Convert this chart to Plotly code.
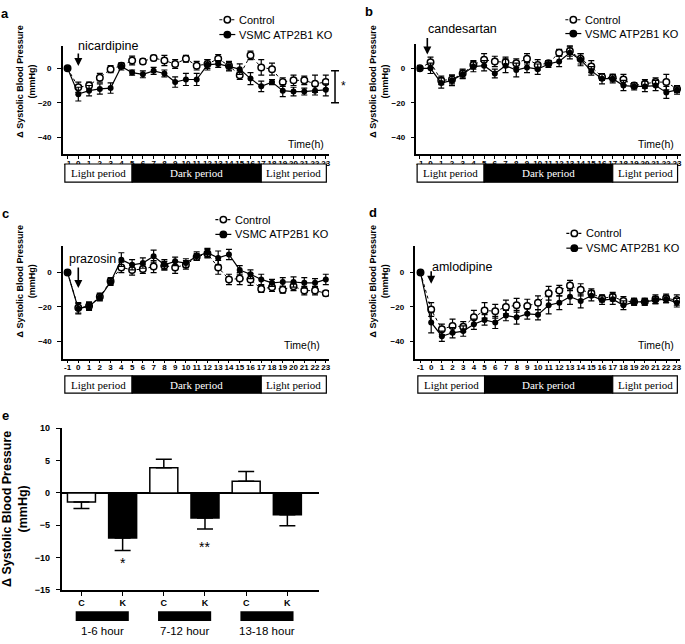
import plotly.graph_objects as go

W, H = 685, 644
F = "Liberation Sans"
FS = "Liberation Serif"

def PX(x):
    return x / W

def PY(y):
    return 1 - y / H

# ---------------- data ----------------
hours = [-1, 0, 1, 2, 3, 4, 5, 6, 7, 8, 9, 10, 11, 12, 13, 14, 15, 16, 17, 18, 19, 20, 21, 22, 23]

ctrl_a = [0, -11, -10, -5.5, -0.5, 1.5, 4.5, 4, 6, 4.5, 2.5, 5.5, 1.5, 2.5, 5.5, 1.5, -4, 7.5, 0.5, -0.5, -8, -7, -7, -9, -8]
ctrl_a_err = [0, 3, 2, 2.5, 2, 1.5, 2.5, 1.5, 1.5, 3, 2.5, 2, 2.5, 2.5, 2.5, 2.5, 2.5, 2.5, 4.5, 3.5, 2.5, 3, 2.5, 5, 4]
ko_a = [0, -15, -13, -12, -11.5, 1, -2.5, -3.5, -1.5, -3, -8, -6.5, -6.5, 2, 2.5, 1, -0.5, -6, -10.5, -8, -13, -13.5, -13.5, -13, -12.5]
ko_a_err = [0, 4, 3, 3, 3, 2, 1.5, 2, 2, 2, 3, 3.5, 3.5, 3, 2, 2.5, 3, 3.5, 3, 1.5, 3.5, 2.5, 2, 2.5, 3.5]

ctrl_b = [0, 3.5, -7, -6.5, -3, 2, 5, 4, 3.5, 3, 5.5, 2, 3, 9, 10, 5.5, 1, -5, -5.5, -6.5, -10, -9, -8, -8, -12]
ctrl_b_err = [0, 3, 2.5, 2.5, 2.5, 2.5, 3.5, 3, 3, 2.5, 3, 3, 1.5, 2, 3, 3, 3.5, 2, 2, 3, 1.5, 2.5, 2.5, 4.5, 2]
ko_b = [0, 0, -8.5, -7, -3.5, 1, 1.5, -3, 1.5, -1, 0.5, -0.5, 2.5, 4, 9, 5, -1.5, -6, -6, -10, -10.5, -10.5, -10, -14, -12.5]
ko_b_err = [0, 3, 3, 3, 2.5, 3, 3, 2.5, 4, 4, 3, 3, 2, 3, 3.5, 3.5, 2.5, 3, 2.5, 3, 2, 3, 3, 3.5, 2.5]

ctrl_c = [0, -20.5, -19.5, -14, -5, 3, 1.5, 2, 3.5, 4, 3, 4.5, 9, 11, 3, -4, -3.5, -4, -9.5, -8.5, -10, -8, -10.5, -10.5, -12]
ctrl_c_err = [0, 3, 2, 2, 2, 3, 3, 2.5, 3.5, 2.5, 3.5, 2.5, 2, 2.5, 4, 3, 3.5, 3.5, 2, 2.5, 2, 2.5, 2.5, 2.5, 1.5]
ko_c = [0, -21, -19.5, -14.5, -5.5, 7.5, 4.5, 5.5, 9.5, 4.5, 6.5, 5.5, 9.5, 11.5, 8.5, 10.5, 1.5, -1, -4, -6, -5.5, -5.5, -6, -6, -4]
ko_c_err = [0, 3, 2.5, 2, 2, 4, 3, 3, 3.5, 3, 2.5, 2.5, 2.5, 2.5, 4, 3, 2.5, 2.5, 3, 2, 2.5, 3, 3, 2.5, 3]

ctrl_d = [0, -21.5, -33, -31, -31.5, -26, -22, -22.5, -20, -19, -19.5, -17.5, -12, -10.5, -7.5, -10, -12, -15, -14, -16.5, -17, -17, -15.5, -15, -16]
ctrl_d_err = [0, 4, 3, 4, 3, 4, 4.5, 4, 4, 4, 4, 4, 4, 3, 3, 3.5, 2.5, 2, 2.5, 2.5, 2, 2, 2.5, 2.5, 3]
ko_d = [0, -29, -37, -35, -34, -30, -27.5, -29, -25, -26, -24, -24.5, -19, -17.5, -14, -16.5, -13.5, -16, -15.5, -19, -17, -17, -16, -15.5, -17.5]
ko_d_err = [0, 6, 3, 3, 3, 3, 3, 3.5, 3, 4, 3, 3, 5, 4, 4.5, 4, 3, 2.5, 3, 2.5, 2, 2, 2, 2, 2.5]

drugs = ["nicardipine", "candesartan", "prazosin", "amlodipine"]
series_names = ["Control", "VSMC ATP2B1 KO"]
period_names = ["Light period", "Dark period", "Light period"]
period_edges = [-1.25, 5, 17, 23.05]
y_ticks = [-40, -20, 0]

bar_groups = ["C", "K", "C", "K", "C", "K"]
bar_vals = [-1.4, -7.0, 3.9, -3.9, 1.8, -3.4]
bar_errs = [1.0, 1.9, 1.3, 1.7, 1.5, 1.7]
bar_periods = ["1-6 hour", "7-12 hour", "13-18 hour"]
e_ticks = [-15, -10, -5, 0, 5, 10]

# ---------------- layout geometry (pixels) ----------------
panels = [
    dict(key="a", ax="", xpx=(63, 330), ypx=(41.7, 151.8), xr=(-1.44, 23.3), yr=(-50, 12.9),
         bar=(161.5, 180), ctrl=ctrl_a, ce=ctrl_a_err, ko=ko_a, ke=ko_a_err,
         lab=(5, 9), leg=(220, 15, 30), title=(26, 77), time=(327, 141.7),
         drug=(76, 42), arrow=(0, 1.3, 14)),
    dict(key="b", ax="2", xpx=(417.7, 683), ypx=(39.3, 151.8), xr=(-1.31, 23.37), yr=(-50, 14.3),
         bar=(161.5, 180), ctrl=ctrl_b, ce=ctrl_b_err, ko=ko_b, ke=ko_b_err,
         lab=(370, 7), leg=(567, 15, 29), title=(380, 77), time=(678, 141.7),
         drug=(427, 24), arrow=(-0.3, 8.0, 18)),
    dict(key="c", ax="3", xpx=(63.3, 330), ypx=(245, 359.2), xr=(-1.41, 23.3), yr=(-50, 15.3),
         bar=(376.7, 394.3), ctrl=ctrl_c, ce=ctrl_c_err, ko=ko_c, ke=ko_c_err,
         lab=(5.5, 212), leg=(216, 218, 233), title=(26, 280), time=(323, 345),
         drug=(67, 258), arrow=(0, -9, 22)),
    dict(key="d", ax="4", xpx=(416.7, 682), ypx=(245, 359.2), xr=(-1.47, 23.3), yr=(-50, 15.3),
         bar=(376.7, 394.3), ctrl=ctrl_d, ce=ctrl_d_err, ko=ko_d, ke=ko_d_err,
         lab=(374, 211), leg=(568, 232, 247), title=(380, 280), time=(678, 345.7),
         drug=(431, 266), arrow=(0, -6.5, 14)),
]

fig = go.Figure()
shapes = []
annotations = []
layout = {}

def axis_common():
    return dict(showline=True, linecolor="black", linewidth=1.5, ticks="outside", ticklen=4,
                tickwidth=1.3, tickcolor="black", showgrid=False, zeroline=False,
                tickfont=dict(family=F, size=8, color="black", weight="bold"))

def legend_entry(x0, yc, name, filled, dotted):
    # small legend key drawn in page pixels: line, circle, label
    shapes.append(dict(type="line", xref="paper", yref="paper", x0=PX(x0), x1=PX(x0 + 16),
                       y0=PY(yc), y1=PY(yc),
                       line=dict(color="black", width=1.2, dash="dot" if dotted else "solid")))
    r = 3.2
    shapes.append(dict(type="circle", xref="paper", yref="paper",
                       x0=PX(x0 + 8 - r), x1=PX(x0 + 8 + r), y0=PY(yc + r), y1=PY(yc - r),
                       fillcolor="black" if filled else "white", line=dict(color="black", width=1.5)))
    annotations.append(dict(xref="paper", yref="paper", x=PX(x0 + 18), y=PY(yc), text=name,
                            showarrow=False, xanchor="left", yanchor="middle",
                            font=dict(family=F, size=11, color="black")))

for i, p in enumerate(panels):
    xa = "x" + p["ax"]
    ya = "y" + p["ax"]
    fig.add_trace(go.Scatter(
        x=hours, y=p["ctrl"], name=series_names[0], xaxis=xa, yaxis=ya, showlegend=False,
        mode="lines+markers",
        line=dict(color="black", width=1, dash="dot"),
        marker=dict(symbol="circle", size=6.5, color="white", line=dict(color="black", width=1.5)),
        error_y=dict(type="data", array=p["ce"], color="black", thickness=1.2, width=3),
    ))
    fig.add_trace(go.Scatter(
        x=hours, y=p["ko"], name=series_names[1], xaxis=xa, yaxis=ya, showlegend=False,
        mode="lines+markers",
        line=dict(color="black", width=1.2),
        marker=dict(symbol="circle", size=6, color="black"),
        error_y=dict(type="data", array=p["ke"], color="black", thickness=1.2, width=3),
    ))
    xd = dict(axis_common(), domain=[PX(p["xpx"][0]), PX(p["xpx"][1])], range=list(p["xr"]),
              anchor=ya, tickmode="array", tickvals=hours, ticktext=[str(h) for h in hours],
              tickangle=0, ticklen=3, ticklabelstandoff=-3)
    yd = dict(axis_common(), domain=[PY(p["ypx"][1]), PY(p["ypx"][0])], range=list(p["yr"]),
              anchor=xa, tickmode="array", tickvals=y_ticks, ticklabelstandoff=4)
    layout["xaxis" + p["ax"]] = xd
    layout["yaxis" + p["ax"]] = yd

    lx, ly1, ly2 = p["leg"]
    legend_entry(lx, ly1, series_names[0], False, True)
    legend_entry(lx, ly2, series_names[1], True, False)

    # hour -> paper x through this panel's axis scale
    def hx(h, p=p):
        x0, x1 = p["xpx"]
        r0, r1 = p["xr"]
        return PX(x0 + (h - r0) / (r1 - r0) * (x1 - x0))

    y0, y1 = p["bar"]
    for k in range(3):
        dark = period_names[k].startswith("Dark")
        shapes.append(dict(type="rect", xref="paper", yref="paper",
                           x0=hx(period_edges[k]), x1=hx(period_edges[k + 1]),
                           y0=PY(y1), y1=PY(y0),
                           fillcolor="black" if dark else "white",
                           line=dict(color="black", width=1.2)))
        annotations.append(dict(xref="paper", yref="paper",
                                x=(hx(period_edges[k]) + hx(period_edges[k + 1])) / 2,
                                y=PY((y0 + y1) / 2), text=period_names[k], showarrow=False,
                                font=dict(family=FS, size=11, color="white" if dark else "black"),
                                xanchor="center", yanchor="middle"))
    # panel letter
    annotations.append(dict(xref="paper", yref="paper", x=PX(p["lab"][0]), y=PY(p["lab"][1]),
                            text="<b>%s</b>" % p["key"], showarrow=False,
                            font=dict(family=F, size=13, color="black"),
                            xanchor="center", yanchor="middle"))
    # y title
    annotations.append(dict(xref="paper", yref="paper", x=PX(p["title"][0]), y=PY(p["title"][1]),
                            text="<b>\u0394 Systolic Blood Pressure<br>(mmHg)</b>", showarrow=False,
                            textangle=-90, font=dict(family=F, size=9, color="black"),
                            xanchor="center", yanchor="middle"))
    # Time(h)
    annotations.append(dict(xref="paper", yref="paper", x=PX(p["time"][0]), y=PY(p["time"][1]),
                            text="Time(h)", showarrow=False,
                            font=dict(family=F, size=10.5, color="black"),
                            xanchor="right", yanchor="middle"))
    # drug label
    annotations.append(dict(xref="paper", yref="paper", x=PX(p["drug"][0]), y=PY(p["drug"][1]),
                            text=drugs[i], showarrow=False,
                            font=dict(family=F, size=12.5, color="black"),
                            xanchor="left", yanchor="middle"))
    ah, ay_val, alen = p["arrow"]
    annotations.append(dict(xref=xa, yref=ya, x=ah, y=ay_val, ax=0, ay=-alen, text="",
                            showarrow=True, arrowhead=2, arrowsize=1, arrowwidth=1.6,
                            arrowcolor="black"))

# significance bracket for panel a
shapes += [
    dict(type="line", xref="paper", yref="y", x0=PX(336), x1=PX(336), y0=-1.5, y1=-20,
         line=dict(color="black", width=1.5)),
    dict(type="line", xref="paper", yref="y", x0=PX(332), x1=PX(340), y0=-1.5, y1=-1.5,
         line=dict(color="black", width=1.5)),
    dict(type="line", xref="paper", yref="y", x0=PX(332), x1=PX(340), y0=-20, y1=-20,
         line=dict(color="black", width=1.5)),
]
annotations.append(dict(xref="paper", yref="y", x=PX(345), y=-10, text="*", showarrow=False,
                        xanchor="center", yanchor="middle",
                        font=dict(family=F, size=12, color="black")))

# ---------------- panel e ----------------
ex = list(range(len(bar_vals)))
e_xpx = (61.7, 320)
e_xr = (-0.484, 5.77)
fig.add_trace(go.Bar(
    x=ex, y=bar_vals, xaxis="x5", yaxis="y5", width=0.68, showlegend=False,
    marker=dict(color=["white" if g == "C" else "black" for g in bar_groups],
                line=dict(color="black", width=1.5)),
    error_y=dict(type="data", symmetric=False,
                 array=[e if v > 0 else 0 for v, e in zip(bar_vals, bar_errs)],
                 arrayminus=[e if v < 0 else 0 for v, e in zip(bar_vals, bar_errs)],
                 color="black", thickness=1.5, width=8),
))
layout["xaxis5"] = dict(axis_common(), domain=[PX(e_xpx[0]), PX(e_xpx[1])], range=list(e_xr),
                        anchor="y5", tickmode="array", tickvals=ex, ticktext=bar_groups)
layout["xaxis5"]["tickfont"] = dict(family=F, size=9, color="black", weight="bold")
layout["yaxis5"] = dict(axis_common(), domain=[PY(594), PY(430)], range=[-15, 10], anchor="x5",
                        tickmode="array", tickvals=e_ticks, zeroline=True, zerolinecolor="black",
                        zerolinewidth=1.5, ticklabelstandoff=4)
layout["yaxis5"]["tickfont"] = dict(family=F, size=9, color="black", weight="bold")

def ex_paper(v):
    return PX(e_xpx[0] + (v - e_xr[0]) / (e_xr[1] - e_xr[0]) * (e_xpx[1] - e_xpx[0]))

for k, lab in enumerate(bar_periods):
    shapes.append(dict(type="rect", xref="paper", yref="paper",
                       x0=ex_paper(2 * k - 0.14), x1=ex_paper(2 * k + 1.15),
                       y0=PY(625.7), y1=PY(615.7), fillcolor="black", line=dict(width=0)))
    annotations.append(dict(xref="paper", yref="paper", x=ex_paper(2 * k + 0.5), y=PY(636),
                            text=lab, showarrow=False, font=dict(family=F, size=11.5, color="black"),
                            xanchor="center", yanchor="middle"))

annotations.append(dict(xref="x5", yref="y5", x=ex[1], y=-10.9, text="*", showarrow=False,
                        font=dict(family=F, size=14, color="black")))
annotations.append(dict(xref="x5", yref="y5", x=ex[3], y=-8.4, text="**", showarrow=False,
                        font=dict(family=F, size=14, color="black")))
annotations.append(dict(xref="paper", yref="paper", x=PX(5.5), y=PY(417),
                        text="<b>e</b>", showarrow=False, font=dict(family=F, size=13, color="black"),
                        xanchor="center", yanchor="middle"))
annotations.append(dict(xref="paper", yref="paper", x=PX(15), y=PY(512),
                        text="<b>\u0394 Systolic Blood Pressure<br>(mmHg)</b>", showarrow=False,
                        textangle=-90, font=dict(family=F, size=12.5, color="black"),
                        xanchor="center", yanchor="middle"))

fig.update_layout(
    width=W, height=H, margin=dict(l=0, r=0, t=0, b=0),
    paper_bgcolor="white", plot_bgcolor="white",
    showlegend=False, shapes=shapes, annotations=annotations,
    font=dict(family=F, color="black"),
    **layout,
)

# the page's default 8px body margin would shift the 685x644 figure out of the window
fig.write_html("out.html", config={"displayModeBar": False},
               post_script="document.body.style.margin='0';")
